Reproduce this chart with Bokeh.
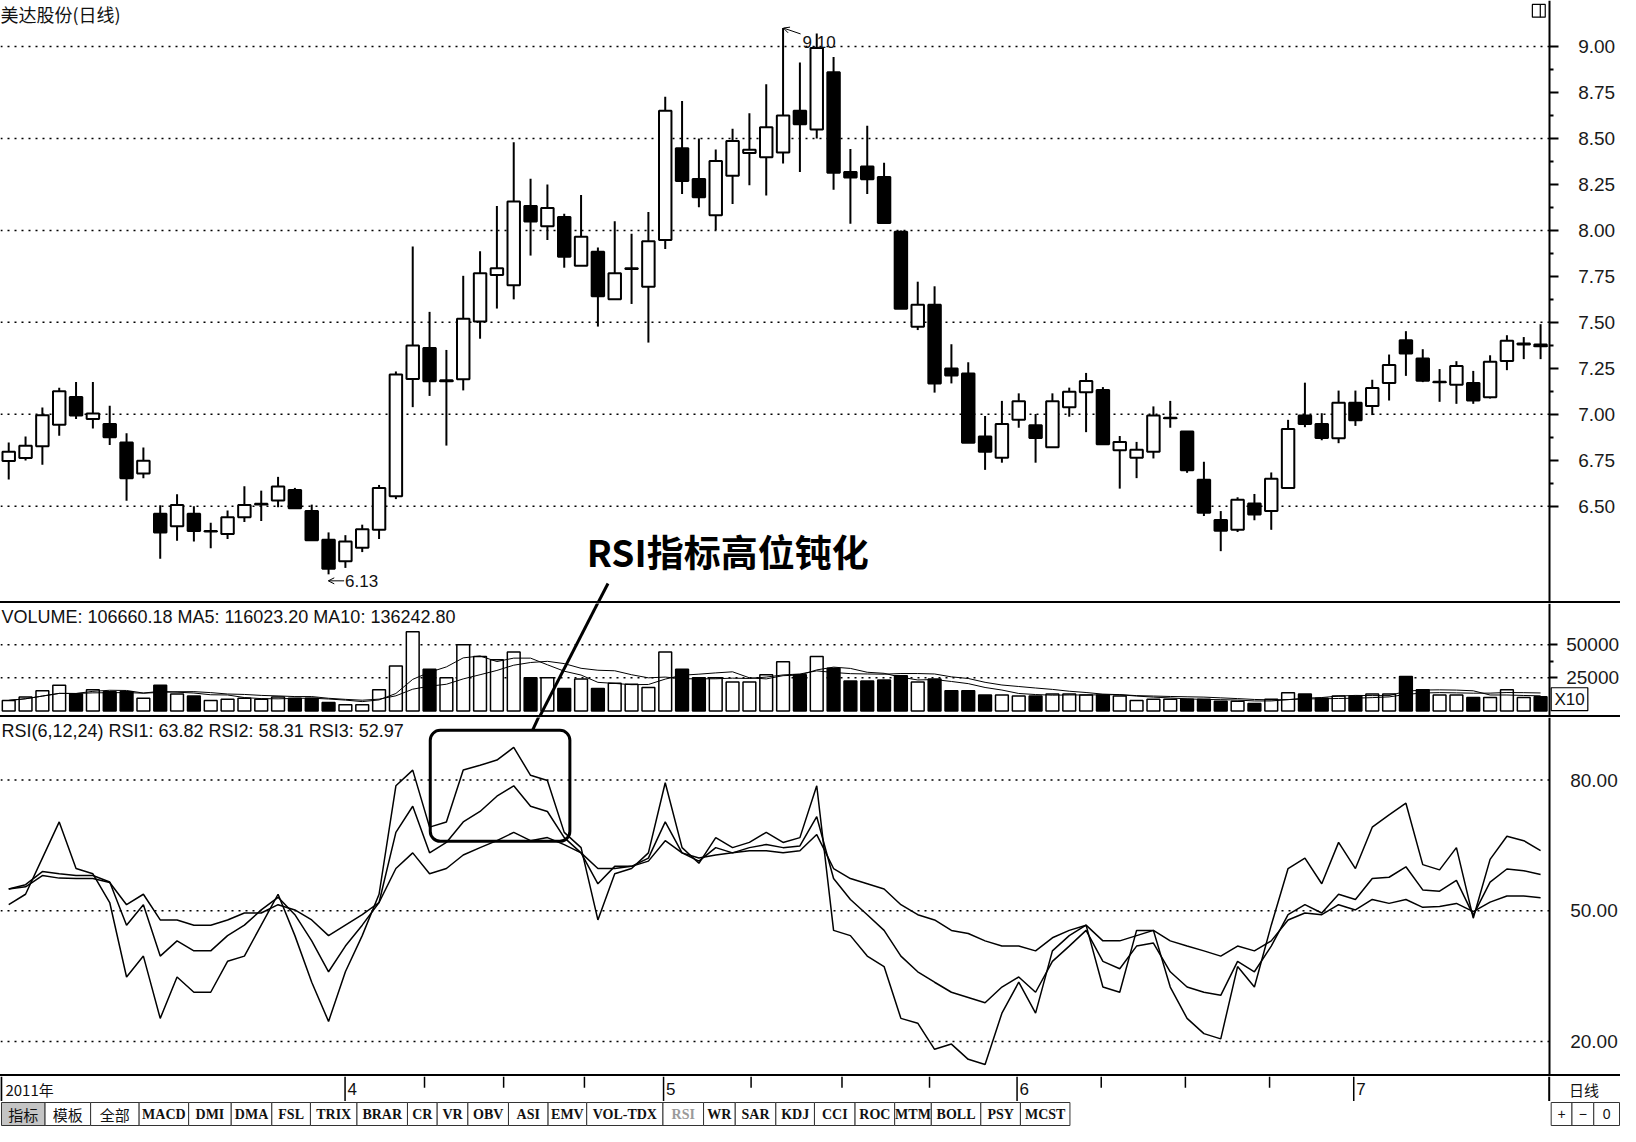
import pandas as pd
from bokeh.plotting import figure
from bokeh.layouts import column
from bokeh.models import (ColumnDataSource, LinearAxis, FixedTicker, PrintfTickFormatter,
                          Range1d, BoxAnnotation, Div, Arrow, OpenHead)
from bokeh.embed import file_html
from bokeh.resources import INLINE
from bokeh.core.properties import value

# ---------------- data ----------------
opens = [6.746, 6.762, 6.827, 6.943, 7.094, 6.975, 6.947, 6.847, 6.678, 6.459,
         6.391, 6.459, 6.363, 6.349, 6.440, 6.510, 6.532, 6.589, 6.475, 6.318,
         6.201, 6.274, 6.372, 6.555, 7.192, 7.360, 7.180, 7.190, 7.504, 7.758,
         7.701, 8.132, 8.023, 8.073, 7.808, 7.884, 7.626, 7.790, 7.694, 7.948,
         8.447, 8.279, 8.082, 8.297, 8.420, 8.397, 8.423, 8.651, 8.549, 8.860,
         8.317, 8.347, 8.290, 7.993, 7.476, 7.596, 7.249, 7.222, 6.880, 6.764,
         6.971, 6.941, 6.821, 7.038, 7.120, 7.132, 6.805, 6.764, 6.796, 6.979,
         6.907, 6.644, 6.426, 6.372, 6.515, 6.474, 6.600, 6.993, 6.947, 6.870,
         7.063, 7.045, 7.170, 7.402, 7.304, 7.175, 7.161, 7.170, 7.093, 7.290,
         7.380, 7.380]
highs = [6.847, 6.879, 7.037, 7.144, 7.176, 7.176, 7.046, 6.897, 6.820, 6.505,
         6.566, 6.500, 6.411, 6.477, 6.609, 6.585, 6.660, 6.600, 6.509, 6.358,
         6.343, 6.400, 6.616, 7.233, 7.913, 7.557, 7.350, 7.753, 7.886, 8.132,
         8.479, 8.281, 8.249, 8.091, 8.192, 7.907, 8.050, 7.982, 8.100, 8.726,
         8.703, 8.500, 8.440, 8.553, 8.637, 8.794, 9.100, 8.913, 9.070, 8.942,
         8.442, 8.569, 8.367, 8.000, 7.721, 7.696, 7.381, 7.283, 6.991, 7.073,
         7.114, 7.002, 7.114, 7.145, 7.225, 7.148, 6.882, 6.850, 7.043, 7.073,
         6.907, 6.742, 6.474, 6.549, 6.567, 6.684, 6.970, 7.172, 7.006, 7.129,
         7.129, 7.188, 7.325, 7.452, 7.354, 7.246, 7.289, 7.236, 7.321, 7.430,
         7.420, 7.490]
lows = [6.646, 6.749, 6.726, 6.883, 6.975, 6.923, 6.833, 6.530, 6.653, 6.215,
        6.313, 6.308, 6.272, 6.322, 6.415, 6.420, 6.495, 6.486, 6.315, 6.130,
        6.165, 6.251, 6.322, 6.539, 7.039, 7.100, 6.830, 7.130, 7.411, 7.575,
        7.625, 7.863, 7.947, 7.797, 7.808, 7.477, 7.626, 7.600, 7.390, 7.899,
        8.198, 8.126, 8.002, 8.144, 8.246, 8.189, 8.363, 8.318, 8.500, 8.221,
        8.036, 8.198, 8.038, 7.574, 7.458, 7.118, 7.168, 6.846, 6.698, 6.737,
        6.927, 6.737, 6.821, 6.987, 6.903, 6.837, 6.596, 6.653, 6.760, 6.927,
        6.682, 6.447, 6.256, 6.360, 6.424, 6.372, 6.600, 6.930, 6.859, 6.843,
        6.937, 6.996, 7.075, 7.209, 7.175, 7.068, 7.057, 7.057, 7.086, 7.240,
        7.300, 7.300]
closes = [6.797, 6.829, 6.995, 7.126, 6.993, 7.004, 6.875, 6.653, 6.747, 6.358,
          6.507, 6.365, 6.365, 6.441, 6.507, 6.514, 6.607, 6.489, 6.315, 6.160,
          6.308, 6.375, 6.600, 7.217, 7.374, 7.180, 7.185, 7.520, 7.767, 7.794,
          8.157, 8.048, 8.121, 7.856, 7.966, 7.642, 7.767, 7.794, 7.941, 8.651,
          8.269, 8.180, 8.377, 8.486, 8.438, 8.560, 8.624, 8.577, 8.991, 8.313,
          8.288, 8.278, 8.040, 7.574, 7.596, 7.168, 7.211, 6.846, 6.796, 6.948,
          7.071, 6.871, 7.071, 7.122, 7.181, 6.837, 6.850, 6.807, 6.993, 6.981,
          6.696, 6.465, 6.367, 6.535, 6.456, 6.650, 6.920, 6.947, 6.871, 7.063,
          6.968, 7.143, 7.268, 7.330, 7.182, 7.177, 7.263, 7.075, 7.286, 7.400,
          7.385, 7.370]
volumes = [8000, 10500, 15300, 19400, 12900, 16100, 14500, 14500, 9700, 19400,
           12900, 11300, 8000, 8900, 9700, 8900, 10500, 9700, 9700, 6500,
           4800, 4800, 16100, 33900, 59700, 31500, 25000, 50000, 41100, 38700,
           44400, 25000, 25000, 16900, 24200, 16900, 21000, 20200, 17700, 44400,
           31500, 25000, 25000, 21800, 21800, 27400, 37100, 27400, 41100, 32300,
           22600, 22600, 23400, 26600, 21800, 24200, 15300, 15300, 12100, 12100,
           11300, 11300, 12900, 12900, 12100, 12100, 11300, 8000, 8900, 8900,
           8900, 8900, 7300, 7300, 5600, 8900, 13700, 12900, 9700, 11300,
           11300, 12900, 12900, 26000, 16000, 12000, 12000, 10200, 10200, 16000,
           10200, 10666]
rsi1 = [51.4, 53.8, 62.1, 70.4, 59.7, 58.5, 51.9, 34.8, 39.6, 25.3,
        34.8, 31.3, 31.3, 38.4, 39.6, 46.7, 53.8, 44.3, 33.6, 24.6,
        36.0, 44.3, 53.8, 78.7, 82.3, 69.2, 70.4, 82.3, 83.4, 84.6,
        87.5, 81.1, 79.9, 68.0, 64.5, 47.9, 58.5, 59.7, 63.3, 79.4,
        64.5, 60.9, 66.8, 64.5, 65.7, 68.0, 65.7, 66.8, 78.7, 45.5,
        44.3, 39.6, 37.2, 25.3, 24.2, 18.2, 19.4, 15.9, 14.7, 26.5,
        33.6, 26.5, 40.8, 44.3, 46.7, 32.5, 31.3, 45.5, 45.5, 32.5,
        25.3, 21.8, 20.6, 37.2, 32.5, 46.7, 59.7, 62.1, 56.2, 65.7,
        59.7, 69.2, 72.0, 74.7, 60.6, 59.4, 64.5, 48.3, 61.8, 67.1,
        66.1, 63.82]
rsi2 = [55.0, 56.0, 59.0, 58.5, 58.1, 58.1, 56.6, 46.7, 51.4, 39.6,
        43.1, 40.8, 40.8, 44.3, 46.7, 50.2, 53.1, 49.1, 43.1, 36.0,
        41.9, 46.7, 51.9, 68.0, 74.0, 63.3, 65.7, 70.4, 72.8, 76.3,
        78.7, 74.0, 72.8, 66.8, 63.3, 56.2, 60.2, 60.2, 62.1, 70.4,
        63.3, 61.4, 64.5, 63.3, 64.5, 65.2, 64.5, 64.9, 71.6, 57.4,
        52.6, 49.1, 45.5, 39.6, 36.0, 33.6, 31.3, 30.1, 28.9, 32.5,
        34.8, 31.3, 38.4, 41.9, 45.5, 38.4, 36.7, 41.9, 42.6, 36.0,
        32.5, 31.3, 30.6, 38.4, 36.0, 41.9, 49.1, 51.4, 49.5, 53.8,
        52.6, 57.4, 57.7, 60.1, 54.8, 54.5, 57.0, 49.0, 56.6, 59.6,
        59.2, 58.31]
rsi3 = [55.0, 55.5, 58.1, 57.5, 57.4, 57.4, 56.5, 51.4, 53.8, 47.9,
        47.9, 46.7, 46.7, 47.9, 49.5, 49.5, 51.4, 50.2, 47.9, 44.3,
        46.7, 49.1, 51.9, 59.7, 63.3, 58.5, 59.7, 62.8, 64.5, 66.1,
        68.0, 66.1, 66.8, 65.2, 63.3, 59.7, 59.7, 60.2, 61.4, 66.1,
        63.3, 62.1, 62.8, 63.3, 63.8, 63.8, 63.3, 63.8, 67.5, 59.7,
        57.4, 56.2, 55.0, 51.4, 49.1, 47.9, 45.5, 44.8, 43.1, 41.9,
        41.9, 40.8, 43.8, 45.5, 46.7, 43.1, 43.1, 44.3, 45.5, 43.1,
        41.9, 40.8, 39.6, 41.9, 40.8, 43.1, 47.9, 49.5, 49.1, 51.4,
        50.2, 52.6, 51.7, 52.6, 50.8, 51.0, 51.7, 49.8, 52.0, 53.4,
        53.4, 52.97]

price_ticks = [6.50, 6.75, 7.00, 7.25, 7.50, 7.75, 8.00, 8.25, 8.50, 8.75, 9.00]
price_minor = [6.625, 6.875, 7.125, 7.375, 7.625, 7.875, 8.125, 8.375, 8.625, 8.875]
price_grid = [6.5, 7.0, 7.5, 8.0, 8.5, 9.0]
vol_ticks = [25000, 50000]
vol_minor = [37500]
rsi_ticks = [20, 50, 80]
month_pos = [19.98, 38.9, 59.9, 79.9]
month_labels = ["4", "5", "6", "7"]
week_pos = [24.7, 29.4, 34.2, 44.1, 49.5, 54.7, 64.9, 69.9, 74.9]
tab_labels = ["指标", "模板", "全部", "MACD", "DMI", "DMA", "FSL", "TRIX", "BRAR", "CR", "VR",
              "OBV", "ASI", "EMV", "VOL-TDX", "RSI", "WR", "SAR", "KDJ", "CCI", "ROC", "MTM",
              "BOLL", "PSY", "MCST"]
tab_edges = [1, 45, 91, 140, 190, 233, 274, 313, 360, 411, 441, 472, 513, 553, 592, 669,
             710, 742, 783, 822, 863, 903, 940, 990, 1030, 1080]
side_labels = ["+", "−", "0"]
side_edges = [1566, 1587, 1609, 1635]

title_text = "美达股份(日线)"
vol_title = "VOLUME: 106660.18  MA5: 116023.20  MA10: 136242.80"
rsi_title = "RSI(6,12,24)  RSI1: 63.82  RSI2: 58.31  RSI3: 52.97"
note_text = "RSI指标高位钝化"

# ---------------- derived ----------------
N = len(closes)
idx = list(range(N))
up = [c >= o for o, c in zip(opens, closes)]
fills = ["white" if u else "black" for u in up]
vs = pd.Series(volumes, dtype=float)
ma5 = vs.rolling(5, min_periods=1).mean().tolist()
ma10 = vs.rolling(10, min_periods=1).mean().tolist()

src = ColumnDataSource(dict(
    x=idx, h=highs, l=lows,
    top=[max(o, c) for o, c in zip(opens, closes)],
    bottom=[min(o, c) for o, c in zip(opens, closes)],
    fill=fills, vol=volumes, ma5=ma5, ma10=ma10,
    r1=rsi1, r2=rsi2, r3=rsi3))

# ---------------- layout geometry (reference pixel helpers) ----------------
W = 1620
LAT = "Liberation Sans"
CJK = "Noto Sans CJK SC"


def px(x):
    return (x - 8.3) / 17.0


def py(y):
    return 9.0 - (y - 46.7) / 187.0


def vy(y):
    return (721.5 - y) / 33.5 * 25000


def ry(y):
    return 50 + (924 - y) / 4.417


AXIS_X = px(1564)
xr = Range1d(px(0), px(1636))


def panel(h, yr):
    p = figure(width=W, height=h, x_range=xr, y_range=yr, output_backend="svg",
               toolbar_location=None, x_axis_location=None, y_axis_location=None,
               min_border_left=0, min_border_right=0, min_border_top=0, min_border_bottom=0)
    p.outline_line_color = None
    p.grid.visible = False
    p.background_fill_color = "white"
    p.border_fill_color = "white"
    return p


def raxis(p, ticks, minor, fmt, tick_out, standoff):
    ax = LinearAxis(ticker=FixedTicker(ticks=ticks, minor_ticks=minor),
                    formatter=PrintfTickFormatter(format=fmt), fixed_location=AXIS_X)
    ax.axis_line_width = 2
    ax.axis_line_color = "black"
    ax.major_tick_out = tick_out
    ax.major_tick_in = 0
    ax.major_tick_line_width = 2
    ax.minor_tick_out = 4 if tick_out else 0
    ax.minor_tick_in = 0
    ax.minor_tick_line_width = 2
    if tick_out == 0:
        ax.major_tick_line_color = None
        ax.minor_tick_line_color = None
    ax.major_label_standoff = standoff
    ax.major_label_text_font = LAT
    ax.major_label_text_font_size = "19px"
    ax.major_label_text_color = "#1a1a1a"
    p.add_layout(ax, "right")


def dgrid(p, ticks):
    p.segment(x0=[px(0)] * len(ticks), y0=ticks, x1=[AXIS_X] * len(ticks), y1=ticks,
              line_color="black", line_dash="2 5", line_width=1.5)


def sep(h=2):
    return Div(text="", width=W, height=h, margin=(0, 0, 0, 0),
               styles={"background-color": "black"})


# ---------------- price panel ----------------
pp = panel(601, Range1d(py(611), py(0)))
dgrid(pp, price_grid)
raxis(pp, price_ticks, price_minor, "%.2f", 9, 20)
pp.segment(x0="x", y0="h", x1="x", y1="l", line_color="black", line_width=2, source=src)
pp.vbar(x="x", top="top", bottom="bottom", width=0.74, fill_color="fill",
        line_color="black", line_width=2, source=src)
pp.text(x=[px(0)], y=[py(0)], text=[title_text], text_font=value(CJK),
        text_font_size="18px", text_baseline="top", text_color="#111111")
hi_i = highs.index(max(highs))
pp.add_layout(Arrow(end=OpenHead(size=6, line_width=1), x_start=px(808), y_start=py(34),
                    x_end=hi_i + 0.02, y_end=max(highs), line_width=1))
pp.text(x=[px(810)], y=[py(48)], text=["%.2f" % max(highs)], text_font=value(LAT),
        text_font_size="17px", text_baseline="bottom", text_color="#111111")
pp.add_layout(Arrow(end=OpenHead(size=6, line_width=1), x_start=px(347), y_start=py(590),
                    x_end=px(331), y_end=py(590), line_width=1))
pp.text(x=[px(348)], y=[py(590)], text=["%.2f" % min(lows)], text_font=value(LAT),
        text_font_size="17px", text_baseline="middle", text_color="#111111")
pp.text(x=[px(592)], y=[py(587)], text=[note_text], text_font=value(CJK),
        text_font_style="bold", text_font_size="37px", text_baseline="bottom",
        text_color="black")
pp.segment(x0=[px(613.5)], y0=[py(592.7)], x1=[px(602)], y1=[py(615)],
           line_color="black", line_width=3)
pp.quad(left=[px(1547)], right=[px(1560)], top=[py(4)], bottom=[py(17)],
        fill_color="white", line_color="black", line_width=1.2)
pp.segment(x0=[px(1555)], y0=[py(4)], x1=[px(1555)], y1=[py(17)],
           line_color="black", line_width=1.2)

# ---------------- volume panel ----------------
pv = panel(112, Range1d(vy(726), vy(613)))
dgrid(pv, vol_ticks)
raxis(pv, vol_ticks, vol_minor, "%d", 8, 9)
pv.vbar(x="x", top="vol", bottom=0, width=0.76, fill_color="fill", line_color="black",
        line_width=1.5, source=src)
pv.line(x="x", y="ma5", line_color="black", line_width=1, source=src)
pv.line(x="x", y="ma10", line_color="black", line_width=1, source=src)
pv.text(x=[px(1)], y=[vy(627)], text=[vol_title], text_font=value(LAT),
        text_font_size="18px", text_baseline="middle", text_color="#111111")
pv.segment(x0=[px(606)], y0=[vy(607)], x1=[px(542)], y1=[vy(732)],
           line_color="black", line_width=3)
pv.quad(left=[px(1566)], right=[px(1603)], top=[vy(698)], bottom=[vy(721)],
        fill_color="white", line_color="black", line_width=1.2)
pv.text(x=[px(1584.5)], y=[vy(709.5)], text=["X10"], text_font=value(LAT),
        text_font_size="17px", text_align="center", text_baseline="middle",
        text_color="#111111")

# ---------------- RSI panel ----------------
pr = panel(357, Range1d(ry(1090), ry(728)))
dgrid(pr, rsi_ticks)
raxis(pr, rsi_ticks, [], "%.2f", 0, 21)
for col in ["r1", "r2", "r3"]:
    pr.line(x="x", y=col, line_color="black", line_width=1.5, source=src)
pr.text(x=[px(1)], y=[ry(742)], text=[rsi_title], text_font=value(LAT),
        text_font_size="18px", text_baseline="middle", text_color="#111111")
pr.add_layout(BoxAnnotation(left=px(434), right=px(575), top=ry(741), bottom=ry(853.5),
                            fill_alpha=0, line_color="black", line_alpha=1.0,
                            line_width=3, border_radius=10))
pr.segment(x0=[px(546)], y0=[ry(722)], x1=[px(537.4)], y1=[ry(740.8)],
           line_color="black", line_width=3)

# ---------------- date bar ----------------
pd_ = panel(25, Range1d(0, 1))
pd_.segment(x0=month_pos, y0=[0] * 4, x1=month_pos, y1=[1] * 4, line_color="black",
            line_width=1.5)
pd_.segment(x0=week_pos, y0=[1] * len(week_pos), x1=week_pos, y1=[0.55] * len(week_pos),
            line_color="black", line_width=1.5)
pd_.segment(x0=[AXIS_X, px(0.8)], y0=[0, 0], x1=[AXIS_X, px(0.8)], y1=[1, 1],
            line_color="black", line_width=2)
pd_.text(x=[m + 0.15 for m in month_pos], y=[0.5] * 4, text=month_labels,
         text_font=value(LAT), text_font_size="17px", text_baseline="middle",
         text_color="#111111")
pd_.text(x=[px(5)], y=[0.5], text=["2011年"], text_font=value(CJK), text_font_size="15px",
         text_baseline="middle", text_color="#111111")
pd_.text(x=[px(1584)], y=[0.5], text=["日线"], text_font=value(CJK), text_font_size="15px",
         text_baseline="middle", text_color="#111111")

# ---------------- tab bar ----------------
pt = figure(width=W, height=25, x_range=Range1d(0, 1636), y_range=Range1d(0, 1),
            output_backend="svg", toolbar_location=None, x_axis_location=None,
            y_axis_location=None, min_border_left=0, min_border_right=0,
            min_border_top=0, min_border_bottom=0)
pt.outline_line_color = None
pt.grid.visible = False
lefts = tab_edges[:-1]
rights = tab_edges[1:]
tab_fill = ["#c4c4c4" if i == 0 else "white" for i in range(len(tab_labels))]
pt.quad(left=lefts, right=rights, top=[0.96] * len(lefts), bottom=[0.04] * len(lefts),
        fill_color=tab_fill, line_color="#333333", line_width=1)
centers = [(a + b) / 2 for a, b in zip(lefts, rights)]
cjk_i = [i for i, t in enumerate(tab_labels) if ord(t[0]) > 0x2E80]
lat_i = [i for i in range(len(tab_labels)) if i not in cjk_i]
pt.text(x=[centers[i] for i in cjk_i], y=[0.5] * len(cjk_i), text=[tab_labels[i] for i in cjk_i],
        text_font=value(CJK), text_font_size="15px", text_align="center",
        text_baseline="middle", text_color="#111111")
pt.text(x=[centers[i] for i in lat_i], y=[0.5] * len(lat_i), text=[tab_labels[i] for i in lat_i],
        text_font=value("Liberation Serif"), text_font_style="bold", text_font_size="14px",
        text_align="center", text_baseline="middle",
        text_color=["#9a9a9a" if tab_labels[i] == "RSI" else "#111111" for i in lat_i])
sl = side_edges[:-1]
sr = side_edges[1:]
pt.quad(left=sl, right=sr, top=[0.96] * 3, bottom=[0.04] * 3, fill_color="white",
        line_color="#333333", line_width=1)
pt.text(x=[(a + b) / 2 for a, b in zip(sl, sr)], y=[0.5] * 3, text=side_labels,
        text_font=value(LAT), text_font_size="14px", text_align="center",
        text_baseline="middle", text_color="#111111")

layout = column(pp, sep(), pv, sep(), pr, sep(), pd_, pt, spacing=0)
open("out.html", "w").write(file_html(layout, INLINE))
